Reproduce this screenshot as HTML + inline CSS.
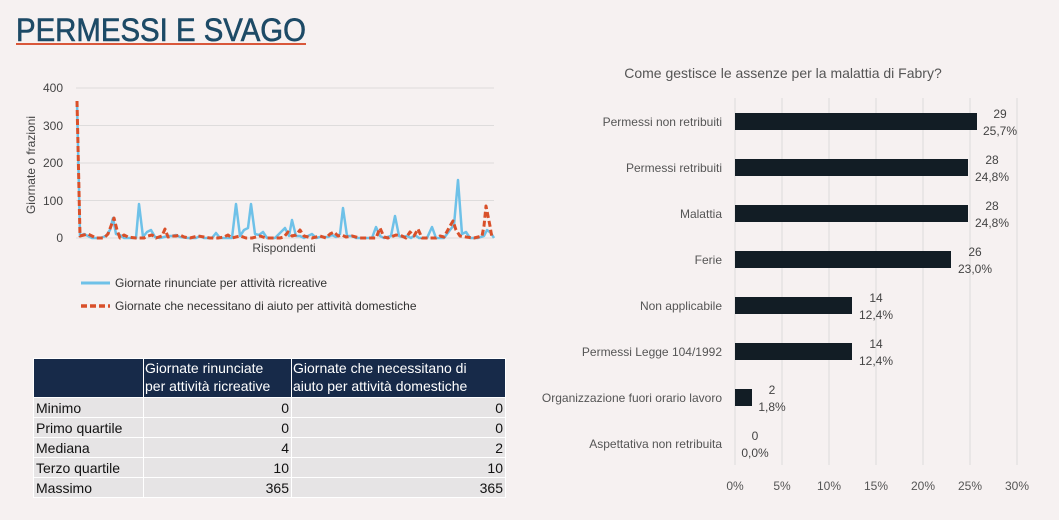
<!DOCTYPE html>
<html><head><meta charset="utf-8"><style>
body{margin:0;width:1059px;height:520px;background:#f6f1f1;font-family:"Liberation Sans",sans-serif;position:relative;overflow:hidden}
svg{position:absolute;left:0;top:0}
table{position:absolute;left:33px;top:358px;width:473px;border-collapse:collapse;font-size:14px;color:#111;table-layout:fixed}
td{padding:0 2px;height:19px;border:1px solid #fff;background:#e6e4e5;line-height:18px;white-space:nowrap}
th{background:#172a49;color:#fff;font-weight:normal;text-align:left;padding:0 1px;height:38px;line-height:18px;border:1px solid #fff;vertical-align:top;white-space:nowrap;overflow:hidden}
td.n{text-align:right}
</style></head><body>
<svg width="1059" height="520" font-family="Liberation Sans, sans-serif">
<text x="16" y="41" font-size="32" fill="#1d4a66" stroke="#1d4a66" stroke-width="0.6" textLength="290" lengthAdjust="spacingAndGlyphs">PERMESSI E SVAGO</text>
<rect x="16" y="43" width="290" height="2" fill="#d9573a"/>
<g stroke="#dedcdc" stroke-width="1">
<line x1="76" y1="88" x2="494" y2="88"/><line x1="76" y1="125.5" x2="494" y2="125.5"/><line x1="76" y1="163" x2="494" y2="163"/><line x1="76" y1="200.5" x2="494" y2="200.5"/><line x1="76" y1="238" x2="494" y2="238"/>
</g>
<g font-size="12" fill="#444" text-anchor="end">
<text x="63" y="92">400</text><text x="63" y="130">300</text><text x="63" y="167">200</text><text x="63" y="205">100</text><text x="63" y="242">0</text>
</g>
<text transform="translate(35,165) rotate(-90)" font-size="12" fill="#444" text-anchor="middle">Giornate o frazioni</text>
<text x="284" y="252" font-size="12" fill="#444" text-anchor="middle">Rispondenti</text>
<polyline fill="none" stroke="#6ec1e8" stroke-width="2.5" stroke-linejoin="round" points="77,101 80,236 84,234 88,236 92,238 100,238 106,236 110,230 113,218 116,234 120,235 124,238 132,238 136,238 139,204 143,237 147,232 151,230 155,237 160,238 168,236 172,236 176,235 180,237 188,238 196,238 200,236 204,238 212,238 216,233 220,238 228,238 232,238 236,204 240,236 244,230 248,228 251,204 255,234 259,235 263,232 267,238 275,238 281,232 285,228 289,236 292,220 296,236 300,236 304,238 308,236 312,234 316,238 320,237 328,237 332,235 336,237 340,234 343,208 347,236 352,236 356,238 364,238 372,238 376,227 380,236 384,238 391,236 395,216 399,236 403,237 407,236 411,238 415,235 419,238 427,238 432,227 436,238 444,238 450,230 454,225 458,180 462,234 466,232 470,238 478,238 484,236 487,230 491,233 494,238"/>
<polyline fill="none" stroke="#d9502a" stroke-width="3" stroke-dasharray="6,3" stroke-linejoin="round" points="77,101 80,236 84,235 88,234 92,236 96,238 104,238 108,234 111,226 114,218 117,230 120,238 124,235 128,237 136,238 144,238 148,236 152,235 156,238 162,236 165,229 168,237 172,236 176,236 180,235 184,237 190,238 198,236 204,237 210,238 218,238 224,237 228,235 232,238 240,236 246,238 252,238 260,236 266,238 274,238 280,238 284,237 288,232 292,236 296,235 300,230 304,236 308,237 312,238 320,236 326,238 330,234 334,232 338,236 342,235 346,237 352,236 360,238 368,238 376,238 380,228 384,237 388,238 396,235 402,236 406,238 410,232 414,236 418,229 422,238 430,238 436,238 440,236 444,237 450,226 453,221 456,230 460,236 466,237 474,238 482,236 484,226 486,206 488,216 490,226 492,238"/>
<line x1="81" y1="283" x2="110" y2="283" stroke="#6ec1e8" stroke-width="3"/>
<text x="115" y="287" font-size="12" fill="#333">Giornate rinunciate per attività ricreative</text>
<line x1="81" y1="306" x2="110" y2="306" stroke="#d9502a" stroke-width="3.5" stroke-dasharray="6,3"/>
<text x="115" y="310" font-size="12" fill="#333">Giornate che necessitano di aiuto per attività domestiche</text>

<text x="783" y="78" font-size="14" fill="#555" text-anchor="middle">Come gestisce le assenze per la malattia di Fabry?</text>
<g stroke="#dcdada" stroke-width="1">
<line x1="735" y1="98" x2="735" y2="465"/><line x1="782" y1="98" x2="782" y2="465"/><line x1="829" y1="98" x2="829" y2="465"/><line x1="876" y1="98" x2="876" y2="465"/><line x1="923" y1="98" x2="923" y2="465"/><line x1="970" y1="98" x2="970" y2="465"/><line x1="1017" y1="98" x2="1017" y2="465"/>
</g>
<g fill="#121d25">
<rect x="735" y="113" width="242" height="17"/>
<rect x="735" y="159" width="233" height="17"/>
<rect x="735" y="205" width="233" height="17"/>
<rect x="735" y="251" width="216" height="17"/>
<rect x="735" y="297" width="117" height="17"/>
<rect x="735" y="343" width="117" height="17"/>
<rect x="735" y="389" width="17" height="17"/>
</g>
<g font-size="12" fill="#555" text-anchor="end">
<text x="722" y="126">Permessi non retribuiti</text>
<text x="722" y="172">Permessi retribuiti</text>
<text x="722" y="218">Malattia</text>
<text x="722" y="264">Ferie</text>
<text x="722" y="310">Non applicabile</text>
<text x="722" y="356">Permessi Legge 104/1992</text>
<text x="722" y="402">Organizzazione fuori orario lavoro</text>
<text x="722" y="448">Aspettativa non retribuita</text>
</g>
<g font-size="12" fill="#444" text-anchor="middle">
<text x="1000" y="118">29</text><text x="1000" y="135">25,7%</text>
<text x="992" y="164">28</text><text x="992" y="181">24,8%</text>
<text x="992" y="210">28</text><text x="992" y="227">24,8%</text>
<text x="975" y="256">26</text><text x="975" y="273">23,0%</text>
<text x="876" y="302">14</text><text x="876" y="319">12,4%</text>
<text x="876" y="348">14</text><text x="876" y="365">12,4%</text>
<text x="772" y="394">2</text><text x="772" y="411">1,8%</text>
<text x="755" y="440">0</text><text x="755" y="457">0,0%</text>
</g>
<g font-size="12" fill="#555" text-anchor="middle">
<text x="735" y="490">0%</text><text x="782" y="490">5%</text><text x="829" y="490">10%</text><text x="876" y="490">15%</text><text x="923" y="490">20%</text><text x="970" y="490">25%</text><text x="1017" y="490">30%</text>
</g>
</svg>
<table>
<colgroup><col style="width:110px"><col style="width:148px"><col></colgroup>
<tr><th></th><th>Giornate rinunciate<br>per attività ricreative</th><th>Giornate che necessitano di<br>aiuto per attività domestiche</th></tr>
<tr><td>Minimo</td><td class="n">0</td><td class="n">0</td></tr>
<tr><td>Primo quartile</td><td class="n">0</td><td class="n">0</td></tr>
<tr><td>Mediana</td><td class="n">4</td><td class="n">2</td></tr>
<tr><td>Terzo quartile</td><td class="n">10</td><td class="n">10</td></tr>
<tr><td>Massimo</td><td class="n">365</td><td class="n">365</td></tr>
</table>
</body></html>
